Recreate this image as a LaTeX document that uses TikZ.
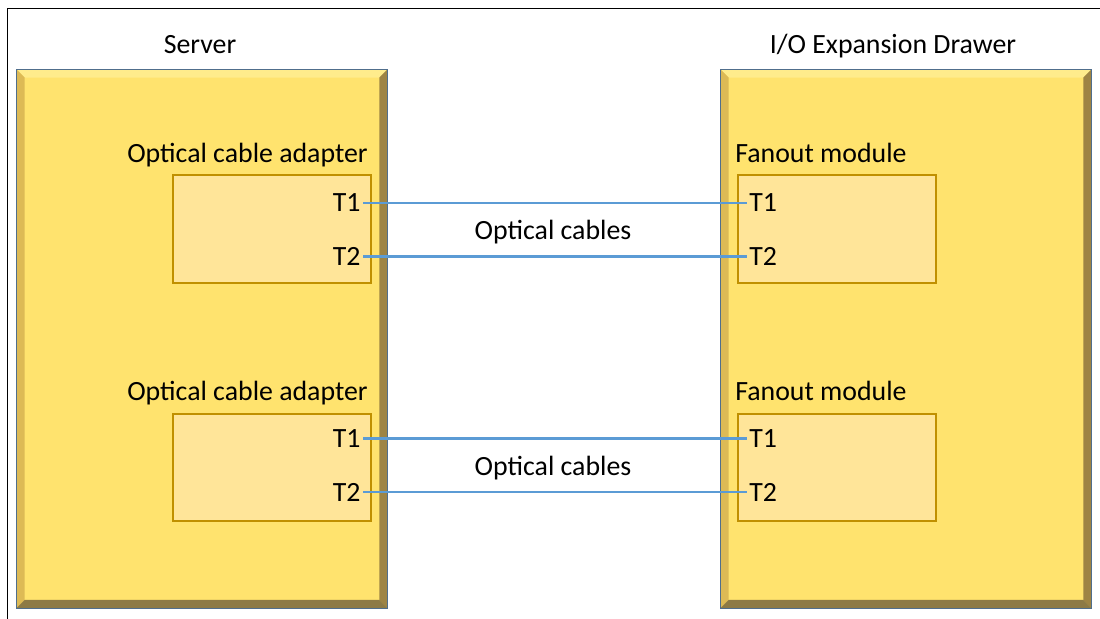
\documentclass[tikz,border=0pt]{standalone}
\usepackage{fontspec}
\setmainfont{Carlito}
\usetikzlibrary{positioning}
\definecolor{faceYellow}{RGB}{255,227,110}
\definecolor{bevelTop}{RGB}{255,236,140}
\definecolor{bevelLeft}{RGB}{221,186,85}
\definecolor{bevelRight}{RGB}{158,132,68}
\definecolor{bevelBottom}{RGB}{141,122,69}
\definecolor{edgeBlue}{RGB}{80,110,140}
\definecolor{portFill}{RGB}{255,229,153}
\definecolor{portEdge}{RGB}{192,144,0}
\definecolor{cableBlue}{RGB}{91,155,213}

% bevelled chassis edges, drawn from the anchors of a chassis node
\newcommand{\drawbevel}[1]{%
  \fill[bevelTop] (#1.north west) -- (#1.north east) -- ([shift={(-8,8)}]#1.north east) -- ([shift={(8,8)}]#1.north west) -- cycle;
  \fill[bevelLeft] (#1.north west) -- (#1.south west) -- ([shift={(8,-8)}]#1.south west) -- ([shift={(8,8)}]#1.north west) -- cycle;
  \fill[bevelRight] (#1.north east) -- (#1.south east) -- ([shift={(-8,-8)}]#1.south east) -- ([shift={(-8,8)}]#1.north east) -- cycle;
  \fill[bevelBottom] (#1.south west) -- (#1.south east) -- ([shift={(-8,-8)}]#1.south east) -- ([shift={(8,-8)}]#1.south west) -- cycle;
  \draw[edgeBlue, line width=0.6pt] (#1.north west) rectangle (#1.south east);
}

\begin{document}
\begin{tikzpicture}[
      x=0.025cm, y=-0.025cm,
      font=\fontsize{19.8}{23}\selectfont,
      chassis/.style={rectangle, fill=faceYellow, inner sep=0pt,
                      minimum width=9.25cm, minimum height=13.44cm},
      portbox/.style={rectangle, draw=portEdge, line width=1.4pt, fill=portFill,
                      inner sep=0pt, minimum width=4.95cm, minimum height=2.68cm},
      port/.style={inner sep=1.5pt},
      title/.style={inner sep=0pt},
      cable/.style={cableBlue, line width=2.1pt}
    ]
    \useasboundingbox (0,0) rectangle (1100,619);
    \draw[line width=1pt] (7.5,619) -- (7.5,8.3) -- (1100,8.3);

    % --- Chassis ---
    \node[chassis] (srv) at (202,338.8) {};
    \drawbevel{srv}
    \node[chassis] (drw) at (906,338.8) {};
    \drawbevel{drw}
    \node[title, anchor=base] (srvtitle) at (200,53.3) {Server};
    \node[title, anchor=base] (drwtitle) at (893,53.3) {I/O Expansion Drawer};

    % --- Adapters and fanout modules ---
    \node[portbox] (ad1) at (272,229) {};
    \node[portbox] (ad2) at (272,467.5) {};
    \node[portbox] (fm1) at (837,229) {};
    \node[portbox] (fm2) at (837,467.5) {};
    \node[title, anchor=base east] (ad1lbl) at (368,162.5) {Optical cable adapter};
    \node[title, anchor=base east] (ad2lbl) at (368,400.5) {Optical cable adapter};
    \node[title, anchor=base west] (fm1lbl) at (735,162.3) {Fanout module};
    \node[title, anchor=base west] (fm2lbl) at (735,400.3) {Fanout module};

    % --- Ports ---
    \node[port, anchor=east] (ad1t1) at (363,203) {T1};
    \node[port, anchor=east] (ad1t2) at (363,256.5) {T2};
    \node[port, anchor=east] (ad2t1) at (363,438.5) {T1};
    \node[port, anchor=east] (ad2t2) at (363,492) {T2};
    \node[port, anchor=west] (fm1t1) at (747,203) {T1};
    \node[port, anchor=west] (fm1t2) at (747,256.5) {T2};
    \node[port, anchor=west] (fm2t1) at (747,438.5) {T1};
    \node[port, anchor=west] (fm2t2) at (747,492) {T2};

    % --- Cables ---
    \draw[cable] (ad1t1) -- (fm1t1);
    \draw[cable] (ad1t2) -- (fm1t2);
    \draw[cable] (ad2t1) -- (fm2t1);
    \draw[cable] (ad2t2) -- (fm2t2);
    \node[title, anchor=base] (cab1) at (553,239) {Optical cables};
    \node[title, anchor=base] (cab2) at (553,475) {Optical cables};
  \end{tikzpicture}
\end{document}
